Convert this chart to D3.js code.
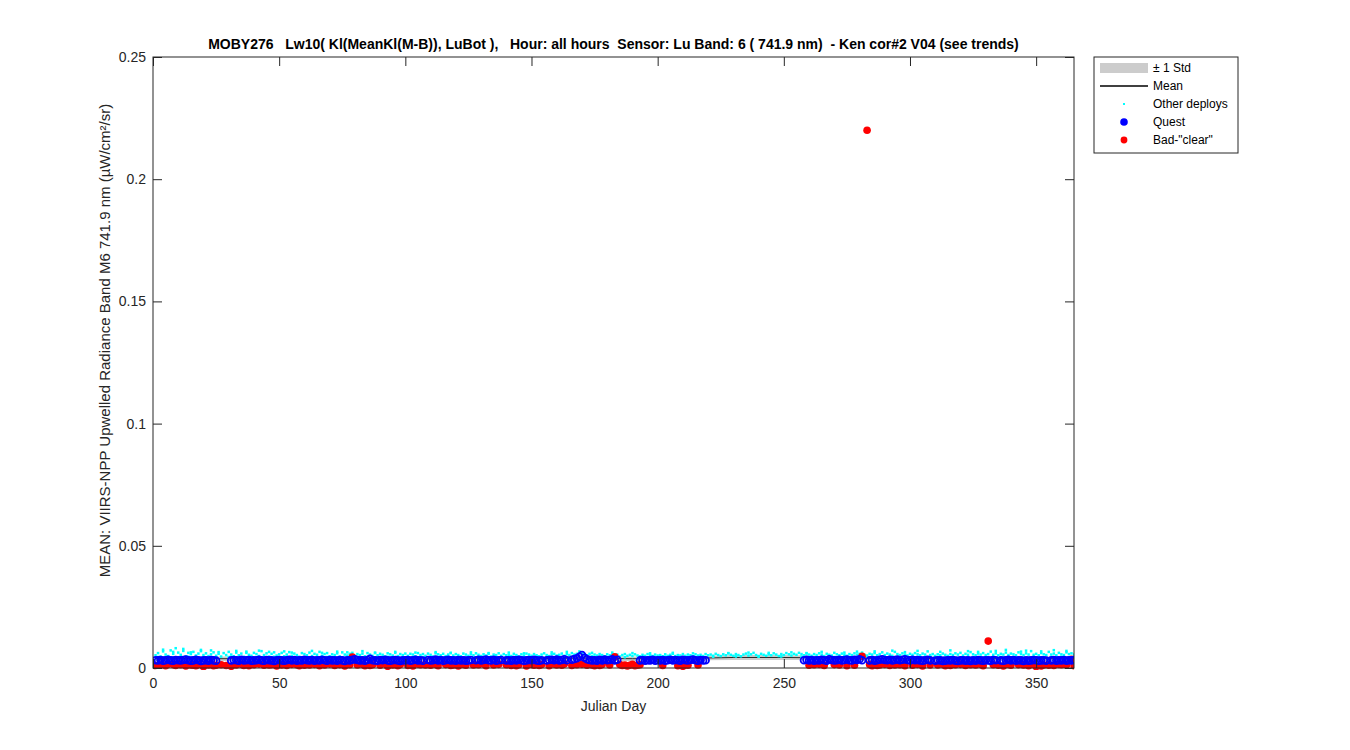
<!DOCTYPE html>
<html>
<head>
<meta charset="utf-8">
<script src="https://cdn.jsdelivr.net/npm/d3@7"></script>
<style>
  html, body { margin: 0; padding: 0; background: #fff; }
  svg { display: block; font-family: "Liberation Sans", Arial, sans-serif; }
  text { white-space: pre; }
</style>
</head>
<body>
<svg id="chart" width="1350" height="750"></svg>
<script>
// ---------------- DATA ----------------
const titleText = "MOBY276   Lw10( Kl(MeanKl(M-B)), LuBot ),   Hour: all hours  Sensor: Lu Band: 6 ( 741.9 nm)  - Ken cor#2 V04 (see trends)";
const xLabel = "Julian Day";
const yLabel = "MEAN: VIIRS-NPP Upwelled Radiance Band M6 741.9 nm (\u00B5W/cm\u00B2/sr)";
const xTicks = [0, 50, 100, 150, 200, 250, 300, 350];
const yTicks = [0, 0.05, 0.1, 0.15, 0.2, 0.25];
const yTickLabels = ["0", "0.05", "0.1", "0.15", "0.2", "0.25"];
const legendLabels = ["\u00B1 1 Std", "Mean", "Other deploys", "Quest", "Bad-\"clear\""];

// Mean and std (every 10 days)
const meanDay = [1,10,20,30,40,50,60,70,80,90,100,110,120,130,140,150,160,170,180,190,200,210,220,230,240,250,260,270,280,290,300,310,320,330,340,350,360,365];
const meanVal = [.0038,.0039,.0038,.0038,.0037,.0038,.0038,.0037,.0038,.0038,.0038,.0037,.0038,.0038,.0038,.0037,.0039,.0041,.0039,.0038,.0038,.0039,.0041,.0043,.0043,.0043,.0042,.0040,.0040,.0039,.0039,.0038,.0038,.0038,.0038,.0038,.0038,.0038];
const stdVal  = [.0009,.0010,.0009,.0009,.0009,.0009,.0009,.0009,.0009,.0009,.0009,.0009,.0009,.0009,.0009,.0009,.0010,.0011,.0010,.0009,.0009,.0009,.0009,.0010,.0010,.0010,.0009,.0009,.0010,.0010,.0009,.0009,.0009,.0009,.0009,.0009,.0009,.0009];

// Other deploys: one value per day (day = index + 1)
const otherVal = [
 .0052,.0061,.0047,.0068,.0055,.0049,.0072,.0058,.0081,.0063,
 .0054,.0070,.0048,.0062,.0057,.0066,.0051,.0059,.0074,.0053,
 .0060,.0049,.0056,.0064,.0050,.0058,.0047,.0061,.0053,.0066,
 .0055,.0048,.0063,.0052,.0059,.0046,.0067,.0054,.0050,.0062,
 .0057,.0049,.0069,.0053,.0060,.0047,.0058,.0064,.0051,.0056,
 .0062,.0048,.0055,.0065,.0050,.0059,.0053,.0046,.0061,.0057,
 .0052,.0063,.0049,.0058,.0054,.0066,.0050,.0057,.0061,.0048,
 .0056,.0053,.0060,.0047,.0064,.0055,.0051,.0058,.0062,.0049,
 .0057,.0053,.0059,.0048,.0061,.0055,.0050,.0063,.0052,.0058,
 .0054,.0047,.0060,.0056,.0051,.0062,.0049,.0057,.0053,.0059,
 .0050,.0058,.0055,.0048,.0061,.0053,.0057,.0050,.0059,.0054,
 .0047,.0060,.0056,.0052,.0058,.0049,.0055,.0061,.0051,.0057,
 .0053,.0048,.0059,.0055,.0050,.0057,.0052,.0060,.0054,.0049,
 .0056,.0051,.0058,.0047,.0055,.0053,.0060,.0050,.0057,.0052,
 .0054,.0049,.0058,.0053,.0047,.0056,.0051,.0059,.0055,.0050,
 .0057,.0052,.0048,.0055,.0060,.0053,.0049,.0056,.0058,.0051,
 .0054,.0059,.0050,.0057,.0053,.0061,.0055,.0058,.0062,.0060,
 .0056,.0052,.0058,.0049,.0055,.0051,.0057,.0053,.0048,.0056,
 .0052,.0058,.0050,.0055,.0047,.0053,.0057,.0050,.0054,.0049,
 .0056,.0051,.0048,.0054,.0050,.0057,.0052,.0049,.0055,.0051,
 .0053,.0048,.0056,.0050,.0054,.0058,.0049,.0053,.0051,.0057,
 .0050,.0055,.0052,.0048,.0056,.0051,.0054,.0049,.0057,.0052,
 .0055,.0050,.0058,.0053,.0049,.0056,.0052,.0060,.0054,.0050,
 .0057,.0053,.0048,.0055,.0059,.0051,.0056,.0062,.0053,.0049,
 .0058,.0054,.0050,.0056,.0052,.0060,.0055,.0049,.0057,.0053,
 .0061,.0056,.0051,.0058,.0054,.0062,.0057,.0052,.0059,.0055,
 .0050,.0057,.0053,.0060,.0055,.0049,.0058,.0054,.0051,.0062,
 .0056,.0052,.0059,.0054,.0050,.0057,.0053,.0060,.0055,.0058,
 .0063,.0054,.0051,.0058,.0055,.0061,.0052,.0057,.0064,.0053,
 .0059,.0055,.0050,.0066,.0057,.0053,.0060,.0055,.0051,.0058,
 .0054,.0061,.0056,.0052,.0059,.0055,.0068,.0053,.0057,.0050,
 .0056,.0052,.0059,.0054,.0050,.0057,.0053,.0060,.0055,.0062,
 .0051,.0058,.0054,.0065,.0056,.0052,.0059,.0055,.0061,.0053,
 .0057,.0067,.0054,.0060,.0052,.0058,.0055,.0063,.0053,.0059,
 .0056,.0052,.0064,.0057,.0053,.0060,.0055,.0069,.0054,.0058,
 .0052,.0061,.0056,.0053,.0066,.0055,.0059,.0052,.0062,.0056,
 .0053,.0064,.0057,.0060,.0055
];
// Extra "other deploys" points [day, value]
const otherExtra = [[4,.0075],[8,.0066],[12,.0078],[15,.0064],[19,.0069],[23,.0072],[26,.0065],[33,.0070],[37,.0062],[42,.0071],[46,.0066],[52,.0068],[55,.0063],[63,.0070],[67,.0062],[73,.0067],[77,.0064],[83,.0069],[88,.0061],[96,.0066],[104,.0063],[112,.0065],[118,.0062],[126,.0064],[133,.0061],[141,.0063],[147,.0060],[158,.0064],[164,.0066],[169,.0068],[174,.0062],[182,.0063],[190,.0061],[197,.0060],[206,.0062],[214,.0060],[228,.0061],[236,.0063],[244,.0062],[253,.0064],[259,.0061],[265,.0066],[274,.0063],[279,.0067],[286,.0068],[293,.0071],[298,.0065],[303,.0070],[312,.0066],[316,.0072],[323,.0069],[327,.0066],[334,.0070],[338,.0074],[344,.0067],[346,.0071],[352,.0068],[357,.0073],[362,.0070],
 [2,.0045],[7,.0044],[14,.0046],[21,.0043],[30,.0045],[39,.0044],[48,.0046],[58,.0043],[69,.0045],[81,.0044],[93,.0046],[107,.0043],[121,.0045],[136,.0044],[152,.0046],[167,.0045],[187,.0044],[203,.0046],[222,.0046],[231,.0047],[240,.0046],[249,.0047],[257,.0046],[270,.0045],[291,.0044],[308,.0046],[321,.0044],[336,.0045],[349,.0044],[360,.0046]];

// Quest: one value per day (day = index + 1), null = no data
const questVal = [
 .0032,.0031,.0033,.0030,.0032,.0034,.0031,.0030,.0033,.0032,
 .0031,.0033,.0035,.0032,.0030,.0031,.0034,.0032,.0029,.0031,
 .0032,.0030,.0033,.0031,.0030,null,null,null,null,null,
 .0031,.0033,.0032,.0030,.0034,.0031,.0032,.0033,.0030,.0031,
 .0032,.0034,.0031,.0030,.0033,.0032,.0031,.0029,.0032,.0033,
 .0031,.0030,.0032,.0034,.0031,.0033,.0030,.0032,.0031,.0034,
 .0032,.0031,.0033,.0030,.0032,.0031,.0034,.0032,.0030,.0033,
 .0031,.0032,.0030,.0033,.0031,.0029,.0032,.0031,.0034,.0036,
 .0033,.0031,.0032,.0030,.0033,.0038,.0032,.0031,.0030,.0033,
 .0032,.0034,.0031,.0030,.0032,.0033,.0031,.0029,.0032,.0031,
 .0033,.0030,.0032,.0034,.0031,.0032,.0030,null,.0033,.0031,
 .0032,.0035,.0031,.0033,.0030,.0032,.0034,.0031,.0032,.0030,
 .0033,.0031,.0032,.0030,.0031,.0033,null,.0032,.0034,.0031,
 .0033,.0035,.0032,.0031,.0034,.0030,.0032,.0033,null,.0031,
 .0032,.0030,.0033,.0031,.0034,.0032,.0030,.0031,.0033,.0032,
 .0034,.0031,.0030,.0032,null,.0031,.0033,.0034,.0032,.0035,
 .0031,.0033,.0036,.0032,null,.0034,.0037,.0040,.0046,.0053,
 .0042,.0036,.0033,.0031,.0032,.0030,.0034,.0031,.0035,.0032,
 .0033,.0036,.0031,.0034,null,null,null,null,null,null,
 null,null,.0031,.0033,.0030,.0032,.0031,.0034,.0030,.0032,
 .0031,.0033,.0030,.0032,.0034,.0031,.0033,.0032,.0030,.0034,
 .0032,.0031,.0033,.0035,.0032,.0030,.0033,.0031,.0032,null,
 null,null,null,null,null,null,null,null,null,null,
 null,null,null,null,null,null,null,null,null,null,
 null,null,null,null,null,null,null,null,null,null,
 null,null,null,null,null,null,null,.0032,.0034,.0031,
 .0033,.0030,.0032,.0031,.0034,.0032,.0030,.0036,.0033,.0031,
 .0032,.0034,.0031,.0033,.0035,.0032,.0031,.0034,.0033,.0036,
 .0032,null,null,.0031,.0033,.0030,.0032,.0034,.0036,.0033,
 .0032,.0034,.0031,.0033,.0035,.0032,.0034,.0036,.0033,.0031,
 .0034,.0032,.0033,.0031,.0030,.0032,.0034,.0031,null,.0030,
 .0032,.0031,.0029,.0030,.0032,.0031,.0033,.0030,.0029,.0031,
 .0032,.0030,.0031,.0029,.0032,.0030,.0033,.0031,.0030,.0032,
 .0031,.0030,.0033,.0032,null,.0031,.0030,.0032,.0034,.0031,
 .0033,.0030,.0032,.0031,.0029,.0032,.0030,.0031,.0033,.0032,
 .0030,.0031,.0032,.0030,null,.0031,.0033,.0030,.0032,.0031,
 .0033,.0030,.0032,.0031,.0033
];

// Bad-"clear" points [day, value]
const badClear = [[3,.0012],[6,.0015],[9,.0010],[11,.0013],[13,.0008],[16,.0011],[18,.0014],[20,.0006],[22,.0012],[24,.0009],[27,.0013],[29,.0010],[31,.0007],[33,.0012],[35,.0015],[38,.0009],[40,.0013],[44,.0011],[47,.0014],[49,.0008],[51,.0012],[53,.0010],[57,.0013],[60,.0011],[64,.0015],[66,.0009],[68,.0012],[72,.0010],[74,.0014],[76,.0008],[79,.0045],[81,.0012],[84,.0009],[87,.0013],[90,.0011],[93,.0007],[95,.0012],[98,.0014],[101,.0010],[103,.0008],[106,.0013],[110,.0011],[113,.0009],[116,.0014],[119,.0012],[121,.0008],[124,.0011],[129,.0013],[132,.0009],[135,.0012],[137,.0015],[142,.0010],[145,.0013],[148,.0008],[151,.0011],[154,.0014],[157,.0009],[160,.0012],[163,.0016],[166,.0010],[168,.0013],[172,.0011],[175,.0009],[178,.0014],[181,.0012],[183,.0046],[186,.0010],[188,.0008],[189,.0011],[191,.0009],[193,.0013],[202,.0010],[208,.0009],[210,.0007],[212,.0011],[216,.0012],[262,.0013],[266,.0010],[272,.0012],[278,.0011],[281,.0048],[283,.2200],[285,.0009],[288,.0012],[292,.0010],[296,.0013],[301,.0011],[305,.0008],[311,.0012],[314,.0009],[318,.0013],[322,.0010],[326,.0012],[329,.0009],[331,.0110],[333,.0013],[337,.0008],[340,.0011],[343,.0014],[347,.0009],[350,.0006],[353,.0012],[357,.0010],[360,.0013],[364,.0036],
 [1,.0010],[5,.0009],[8,.0014],[10,.0016],[15,.0012],[17,.0009],[21,.0015],[25,.0011],[36,.0010],[42,.0016],[46,.0012],[55,.0015],[58,.0009],[62,.0012],[70,.0016],[78,.0013],[83,.0015],[86,.0010],[92,.0016],[97,.0009],[105,.0016],[108,.0012],[112,.0015],[118,.0010],[123,.0015],[127,.0012],[131,.0016],[140,.0013],[144,.0009],[150,.0015],[153,.0010],[159,.0016],[162,.0011],[170,.0015],[174,.0012],[177,.0010],[185,.0014],[187,.0012],[190,.0015],[192,.0011],[209,.0014],[211,.0013],[260,.0011],[264,.0015],[270,.0014],[275,.0009],[284,.0014],[287,.0010],[290,.0015],[294,.0012],[298,.0009],[303,.0015],[308,.0012],[313,.0015],[316,.0010],[320,.0015],[324,.0013],[328,.0015],[335,.0011],[339,.0015],[345,.0012],[349,.0015],[352,.0008],[355,.0011],[359,.0015],[362,.0012],[365,.0009]];

// ---------------- DRAW ----------------
const svg = d3.select("#chart");
const L = 153, R = 1074, T = 57, B = 668;
const axisColor = "#262626";

const x = d3.scaleLinear().domain([0, 365]).range([L, R]);
const y = d3.scaleLinear().domain([0, 0.25]).range([B, T]);

svg.append("rect").attr("width", 1350).attr("height", 750).attr("fill", "#fff");

svg.append("clipPath").attr("id", "clip").append("rect")
  .attr("x", L).attr("y", T).attr("width", R - L).attr("height", B - T + 2);
const dataG = svg.append("g").attr("clip-path", "url(#clip)");

// std band
const band = meanDay.map((d, i) => ({d, m: meanVal[i], s: stdVal[i]}));
dataG.append("path")
  .datum(band)
  .attr("fill", "#cccccc")
  .attr("d", d3.area().x(p => x(p.d)).y0(p => y(p.m - p.s)).y1(p => y(p.m + p.s)));
// mean line
dataG.append("path")
  .datum(band)
  .attr("fill", "none").attr("stroke", "#000").attr("stroke-width", 0.8)
  .attr("d", d3.line().x(p => x(p.d)).y(p => y(p.m)));

// other deploys
const others = otherVal.map((v, i) => [i + 1, v]).concat(otherExtra);
dataG.append("g").selectAll("rect").data(others).join("rect")
  .attr("x", p => x(p[0]) - 1.25).attr("y", p => y(p[1]) - 1.25)
  .attr("width", 2.5).attr("height", 2.5).attr("fill", "#00ffff");

// bad clear
dataG.append("g").selectAll("circle").data(badClear).join("circle")
  .attr("cx", p => x(p[0])).attr("cy", p => y(p[1])).attr("r", 3.8)
  .attr("fill", "#ff0000");

// quest
const quest = questVal.map((v, i) => [i + 1, v]).filter(p => p[1] !== null);
dataG.append("g").selectAll("circle").data(quest).join("circle")
  .attr("cx", p => x(p[0])).attr("cy", p => y(p[1])).attr("r", 3.4)
  .attr("fill", "none").attr("stroke", "#0000ff").attr("stroke-width", 1.8);

// axes
const tickLen = 9;
const xb = d3.axisBottom(x).tickValues(xTicks).tickSizeInner(-tickLen).tickSizeOuter(0).tickPadding(10).tickFormat(d3.format("d"));
const xt = d3.axisTop(x).tickValues(xTicks).tickSizeInner(-tickLen).tickSizeOuter(0).tickFormat("");
const yl = d3.axisLeft(y).tickValues(yTicks).tickSizeInner(-tickLen).tickSizeOuter(0).tickPadding(7).tickFormat((d, i) => yTickLabels[i]);
const yr = d3.axisRight(y).tickValues(yTicks).tickSizeInner(-tickLen).tickSizeOuter(0).tickFormat("");

function style(g) {
  g.select(".domain").remove();
  g.selectAll("line").attr("stroke", axisColor);
  g.selectAll("text").attr("fill", axisColor).attr("font-size", 14).attr("font-family", "Liberation Sans, Arial, sans-serif");
}
svg.append("g").attr("transform", `translate(0,${B})`).call(xb).call(style);
svg.append("g").attr("transform", `translate(0,${T})`).call(xt).call(style);
svg.append("g").attr("transform", `translate(${L},0)`).call(yl).call(style);
svg.append("g").attr("transform", `translate(${R},0)`).call(yr).call(style);

// box
svg.append("rect").attr("x", L).attr("y", T).attr("width", R - L).attr("height", B - T)
  .attr("fill", "none").attr("stroke", axisColor).attr("stroke-width", 1);

// title
svg.append("text").attr("x", (L + R) / 2).attr("y", 49).attr("text-anchor", "middle")
  .attr("font-weight", "bold").attr("font-size", 14).attr("fill", "#000").text(titleText);
// x label
svg.append("text").attr("x", (L + R) / 2).attr("y", 711).attr("text-anchor", "middle")
  .attr("font-size", 14).attr("fill", axisColor).text(xLabel);
// y label
svg.append("text").attr("transform", `translate(110,${(T + B) / 2 - 22}) rotate(-90)`).attr("text-anchor", "middle")
  .attr("font-size", 15).attr("fill", axisColor).text(yLabel);

// legend
const lg = svg.append("g");
const lx = 1094, ly = 57, lw = 144, lh = 96;
lg.append("rect").attr("x", lx).attr("y", ly).attr("width", lw).attr("height", lh)
  .attr("fill", "#fff").attr("stroke", axisColor).attr("stroke-width", 1);
const rowY = [68, 86, 104, 122, 140];
lg.append("rect").attr("x", 1100).attr("y", rowY[0] - 5).attr("width", 48).attr("height", 10).attr("fill", "#cccccc");
lg.append("line").attr("x1", 1100).attr("x2", 1148).attr("y1", rowY[1]).attr("y2", rowY[1]).attr("stroke", "#000").attr("stroke-width", 1.5);
lg.append("rect").attr("x", 1123).attr("y", rowY[2] - 1).attr("width", 2).attr("height", 2).attr("fill", "#00ffff");
lg.append("circle").attr("cx", 1124).attr("cy", rowY[3]).attr("r", 3.8).attr("fill", "#0000ff");
lg.append("circle").attr("cx", 1124).attr("cy", rowY[4]).attr("r", 3.4).attr("fill", "#ff0000");
lg.selectAll("text.lab").data(legendLabels).join("text").attr("class", "lab")
  .attr("x", 1153).attr("y", (d, i) => rowY[i] + 4).attr("font-size", 12).attr("fill", "#000").text(d => d);
</script>
</body>
</html>
